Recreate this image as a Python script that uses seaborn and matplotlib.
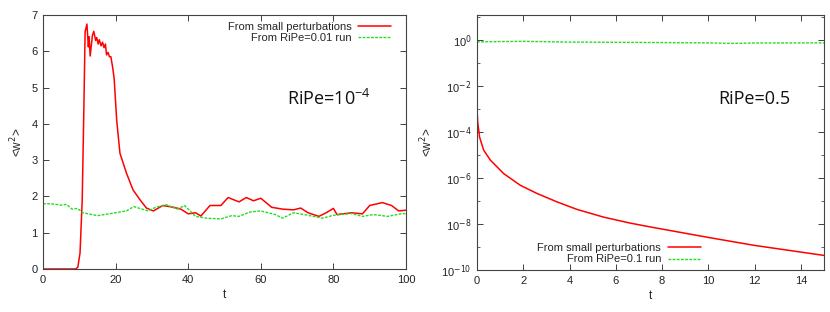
import numpy as np
import pandas as pd
import matplotlib
matplotlib.use("Agg")
import matplotlib.pyplot as plt
import seaborn as sns
from matplotlib.ticker import FixedLocator, FuncFormatter, MultipleLocator

# ---------------- data ----------------
left_red_t = [0, 5, 9.0, 9.6, 10.2, 10.8, 11.3, 11.6, 12.1, 12.5, 12.7, 13.0, 13.6, 14.0, 14.5, 14.8,
              15.2, 15.5, 16.0, 16.4, 16.8, 17.2, 17.5, 17.9, 18.3, 18.7, 19.2, 19.6, 20.3, 21.2,
              23.0, 24.8, 26.7, 28.5, 30.4, 33, 36, 38, 40, 42, 43.5, 46, 49, 51, 54, 56, 58, 60,
              63, 66, 69, 71, 73, 76, 78, 80, 81, 85, 88, 90, 93.5, 96, 98, 100]
left_red_v = [0, 0, 0.0, 0.05, 0.44, 1.9, 4.66, 6.54, 6.75, 6.12, 6.4, 5.87, 6.43, 6.55, 6.3, 6.38,
              6.2, 6.32, 6.15, 6.25, 6.1, 6.2, 5.9, 5.97, 5.85, 5.85, 5.55, 5.25, 4.1, 3.19,
              2.64, 2.18, 1.91, 1.68, 1.6, 1.75, 1.7, 1.65, 1.52, 1.55, 1.46, 1.75, 1.75, 1.97, 1.85,
              1.97, 1.88, 1.95, 1.7, 1.65, 1.63, 1.68, 1.55, 1.45, 1.55, 1.67, 1.5, 1.55, 1.52,
              1.75, 1.83, 1.75, 1.6, 1.62]

left_green_t = [0, 2, 5, 6.5, 8, 9.5, 11, 15, 20, 23, 25, 29, 31, 34, 37, 39, 42, 45, 49, 52,
                54, 57, 60, 64, 66, 69, 72, 77, 80, 85, 88, 91, 95, 99, 100]
left_green_v = [1.8, 1.8, 1.76, 1.78, 1.65, 1.67, 1.55, 1.47, 1.55, 1.6, 1.72, 1.6, 1.7, 1.77,
                1.65, 1.75, 1.45, 1.4, 1.38, 1.47, 1.45, 1.57, 1.6, 1.5, 1.4, 1.55, 1.5, 1.4,
                1.48, 1.53, 1.45, 1.5, 1.45, 1.53, 1.52]

right_red_t = [0, 0.03, 0.11, 0.29, 0.58, 1.15, 1.87, 2.6, 3.46, 4.32, 5.46, 6.6, 7.5, 10.0,
               12.0, 14.0, 15.0]
right_red_v = [1.05e-3, 2.7e-4, 6.0e-5, 1.6e-5, 5.9e-6, 1.55e-6, 4.8e-7, 2.1e-7, 9.1e-8,
               4.3e-8, 2.0e-8, 1.1e-8, 7.4e-9, 2.6e-9, 1.17e-9, 6.0e-10, 4.3e-10]

right_green_t = [0, 2, 4, 6, 8, 10, 11, 12, 14, 15]
right_green_v = [0.82, 0.86, 0.8, 0.78, 0.76, 0.74, 0.7, 0.73, 0.74, 0.74]

left_label_red = "From small perturbations"
left_label_green = "From RiPe=0.01 run"
right_label_red = "From small perturbations"
right_label_green = "From RiPe=0.1 run"

# ---------------- figure ----------------
sns.set_theme(style="ticks")
plt.rcParams["font.family"] = ["Liberation Sans", "DejaVu Sans"]

fig = plt.figure(figsize=(8.3, 3.12), dpi=100)
axL = fig.add_axes([43 / 830, 1 - 269 / 312, 363 / 830, 254 / 312])
axR = fig.add_axes([477 / 830, 1 - 270 / 312, 347 / 830, 255 / 312])

RED = "#ff0000"
GREEN = "#22dd22"

dL1 = pd.DataFrame({"t": left_red_t, "w": left_red_v})
dL2 = pd.DataFrame({"t": left_green_t, "w": left_green_v})
sns.lineplot(data=dL1, x="t", y="w", ax=axL, color=RED, lw=1.1, label=left_label_red)
sns.lineplot(data=dL2, x="t", y="w", ax=axL, color=GREEN, lw=1.0, linestyle=(0, (2, 1)),
             label=left_label_green)

dR1 = pd.DataFrame({"t": right_red_t, "w": right_red_v})
dR2 = pd.DataFrame({"t": right_green_t, "w": right_green_v})
sns.lineplot(data=dR1, x="t", y="w", ax=axR, color=RED, lw=1.1, label=right_label_red)
sns.lineplot(data=dR2, x="t", y="w", ax=axR, color=GREEN, lw=1.0, linestyle=(0, (2, 1)),
             label=right_label_green)

for ax in (axL, axR):
    ax.tick_params(direction="in", top=True, right=True, labelsize=8, length=4,
                   width=0.6, pad=4, colors="#222222")
    ax.tick_params(which="minor", direction="in", top=True, right=True, length=2.5, width=0.5)
    for s in ax.spines.values():
        s.set_linewidth(0.8)
        s.set_color("#444444")
    ax.set_xlabel("t", fontsize=8.5, labelpad=3)
    ax.set_ylabel(r"<w$^2$>", fontsize=8.5, labelpad=4)

axL.set_xlim(0, 100)
axL.set_ylim(0, 7)
axL.xaxis.set_major_locator(MultipleLocator(20))
axL.yaxis.set_major_locator(MultipleLocator(1))

axR.set_yscale("log")
axR.set_xlim(0, 15)
axR.set_ylim(1e-10, 12)
axR.xaxis.set_major_locator(MultipleLocator(2))
axR.yaxis.set_major_locator(FixedLocator([10.0 ** k for k in range(-10, 1, 2)]))
axR.yaxis.set_minor_locator(FixedLocator([10.0 ** k for k in range(-9, 2, 2)]))
axR.yaxis.set_major_formatter(FuncFormatter(lambda v, p: r"10$^{%d}$" % round(np.log10(v))))
axR.yaxis.set_minor_formatter(FuncFormatter(lambda v, p: ""))

legL = axL.legend(loc="upper right", frameon=False, markerfirst=False, fontsize=8,
                  handlelength=3.0, borderaxespad=0.2, labelspacing=0.15, handletextpad=0.6,
                  bbox_to_anchor=(0.978, 1.0))
legR = axR.legend(loc="lower center", frameon=False, markerfirst=False, fontsize=8,
                  handlelength=3.0, borderaxespad=0.1, labelspacing=0.15, handletextpad=0.6,
                  bbox_to_anchor=(0.41, 0.0))

axL.text(0.671, 0.646, r"RiPe=10$^{\mathregular{-4}}$", transform=axL.transAxes, fontsize=13,
         family=["Open Sans", "DejaVu Sans"], color="#111111", va="baseline")
axR.text(0.695, 0.651, "RiPe=0.5", transform=axR.transAxes, fontsize=13,
         family=["Open Sans", "DejaVu Sans"], color="#111111", va="baseline")

fig.savefig("out.png", dpi=100)
